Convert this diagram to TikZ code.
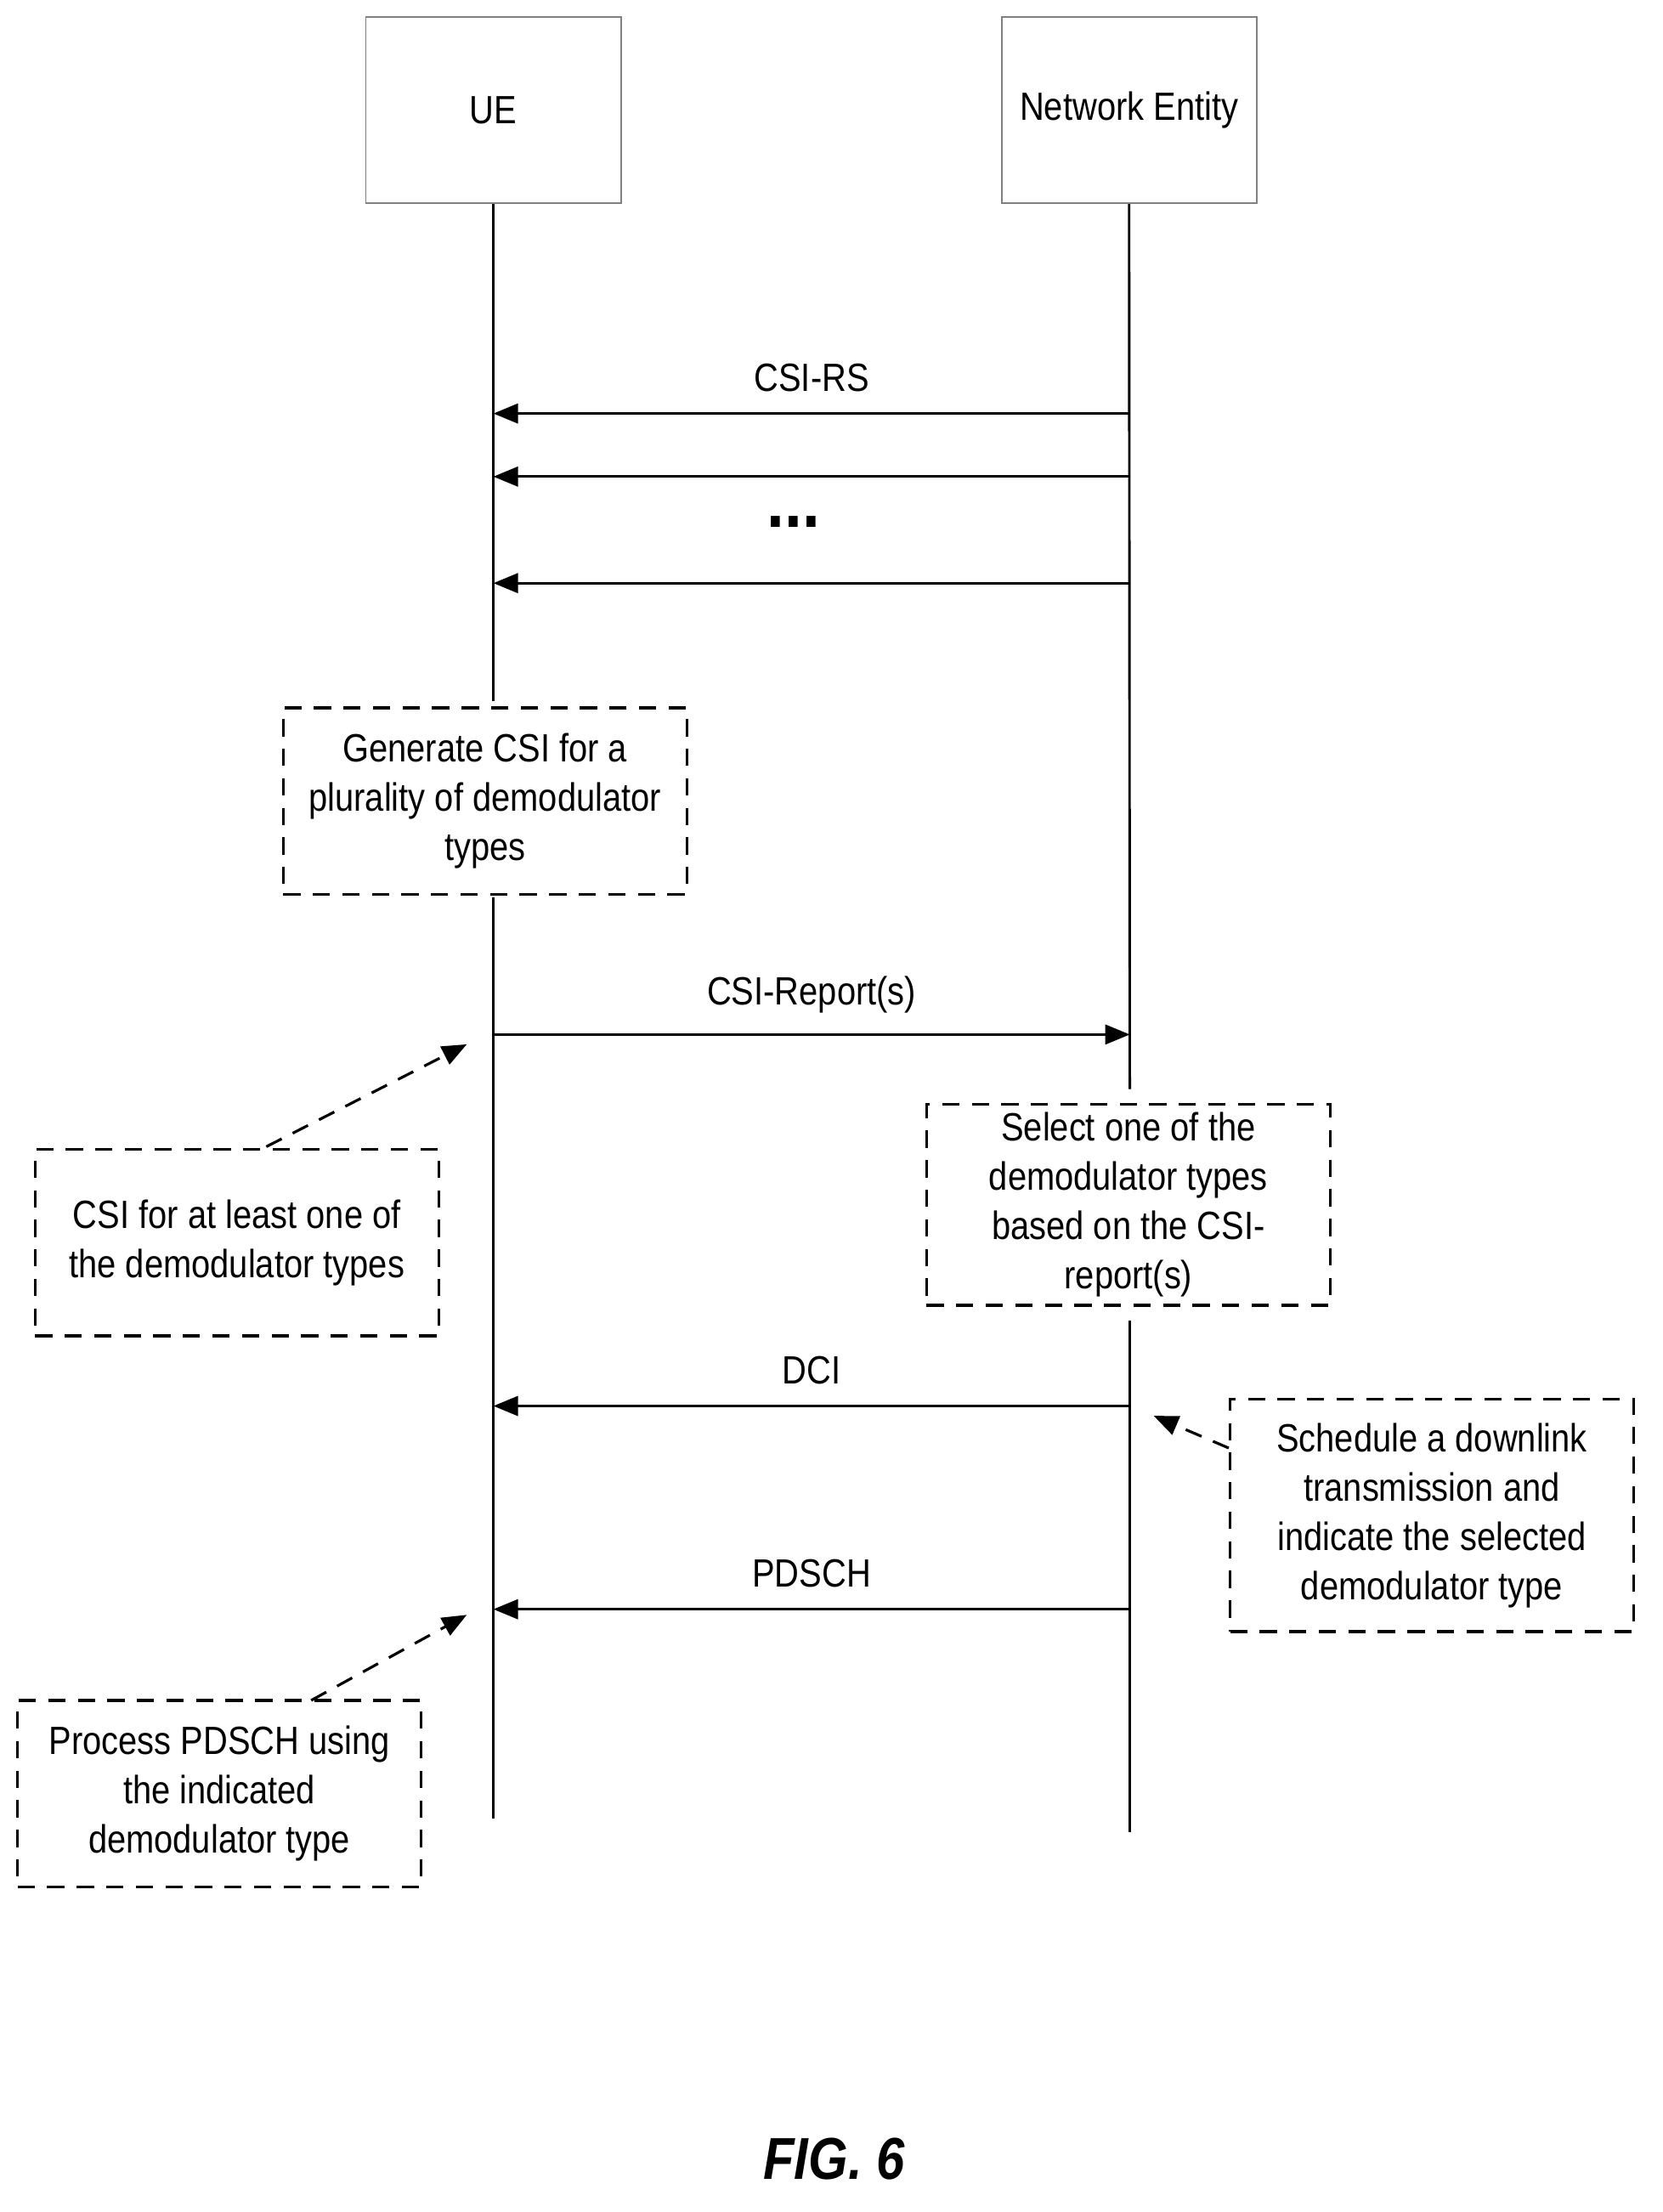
\documentclass[tikz,border=0pt]{standalone}
\usepackage{fontspec}
\setmainfont[FakeStretch=0.86]{Liberation Sans}
\usetikzlibrary{arrows.meta}
\begin{document}
\begin{tikzpicture}[x=0.02cm,y=-0.02cm,
  every node/.style={font=\fontsize{16}{20}\selectfont},
  entity/.style={draw=gray,line width=0.6pt,minimum width=3.64cm,minimum height=2.66cm},
  step box/.style={draw,dashed,line width=1.1pt,dash pattern=on 7pt off 5pt,minimum width=5.76cm,minimum height=2.66cm,align=center},
  msg/.style={line width=1pt,-{Triangle[length=10pt,width=8pt]}},
  note/.style={line width=1.1pt,dashed,dash pattern=on 7pt off 5pt,-{Triangle[length=10pt,width=8pt]}},
  life/.style={line width=1pt}
]
\useasboundingbox (0,0) rectangle (1186,1578);
% entities
\node[entity] (ue) at (352,78.5) {UE};
\node[entity] (ne) at (805.5,78.5) {Network Entity};
% lifelines
\coordinate (ue1) at (352,500);
\coordinate (ue2) at (352,640);
\coordinate (ue3) at (352,1297);
\coordinate (ne1) at (806,777);
\coordinate (ne2) at (806,942);
\coordinate (ne3) at (806,1307);
\draw[life] (ue.south) -- (ue1);
\draw[life] (ue2) -- (ue3);
\draw[life] (ne.south) -- (ne1);
\draw[life] (ne2) -- (ne3);
% steps
\node[step box] (gen) at (346,571.5) {Generate CSI for a\\plurality of demodulator\\types};
\node[step box] (sel) at (805,859.5) {Select one of the\\demodulator types\\based on the CSI-\\report(s)};
\node[step box] (csi) at (169,886.5) {CSI for at least one of\\the demodulator types};
\node[step box,minimum height=3.32cm] (sch) at (1021.5,1081) {Schedule a downlink\\transmission and\\indicate the selected\\demodulator type};
\node[step box] (proc) at (156.5,1279.5) {Process PDSCH using\\the indicated\\demodulator type};
% messages
\coordinate (a1) at (806,295); \coordinate (b1) at (352,295);
\coordinate (a2) at (806,340); \coordinate (b2) at (352,340);
\coordinate (a3) at (806,416); \coordinate (b3) at (352,416);
\coordinate (a4) at (352,738); \coordinate (b4) at (806,738);
\coordinate (a5) at (806,1003); \coordinate (b5) at (352,1003);
\coordinate (a6) at (806,1148); \coordinate (b6) at (352,1148);
\draw[msg] (a1) -- node[above=5pt] {CSI-RS} (b1);
\draw[msg] (a2) -- (b2);
\node[font=\fontsize{30}{30}\selectfont\bfseries] (dots) at (566,372) {...};
\draw[msg] (a3) -- (b3);
\draw[msg] (a4) -- node[above=5pt] {CSI-Report(s)} (b4);
\draw[msg] (a5) -- node[above=5pt] {DCI} (b5);
\draw[msg] (a6) -- node[above=5pt] {PDSCH} (b6);
% notes
\coordinate (t1) at (333,745);
\coordinate (t2) at (823,1010);
\coordinate (t3) at (333,1152);
\draw[note] (190,818) -- (t1);
\draw[note] (sch.west |- 0,1033) -- (t2);
\draw[note] (222,1213) -- (t3);
\node[font=\fontsize{24}{28}\selectfont\bfseries\itshape] (fig) at (595,1540) {FIG. 6};
\end{tikzpicture}
\end{document}
